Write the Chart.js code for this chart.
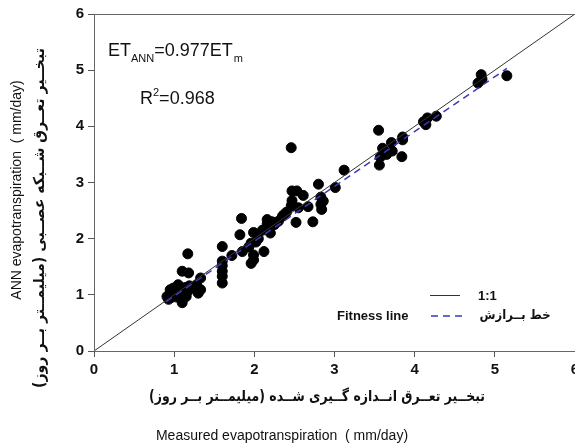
<!DOCTYPE html>
<html>
<head>
<meta charset="utf-8">
<script src="https://cdn.jsdelivr.net/npm/chart.js@4/dist/chart.umd.min.js"></script>
<style>
	html, body { margin: 0; padding: 0; background: #fff; overflow: hidden; }
	#wrap { width: 575px; height: 447px; overflow: hidden; }
</style>
</head>
<body>
<div id="wrap"><canvas id="chart" width="610" height="447"></canvas></div>
<script>
// --- Data (mm/day) ---
const measured = [
	0.91, 0.93, 0.95, 0.96, 0.97, 0.99, 1.01, 1.03, 1.04, 1.05,
	1.08, 1.10, 1.12, 1.14, 1.15, 1.17, 1.10, 1.19, 1.00, 0.98,
	1.10, 1.18, 1.17, 1.28, 1.33, 1.33, 1.30, 1.22,
	1.60, 1.60, 1.60, 1.60, 1.60, 1.60, 1.72, 1.85,
	1.84, 1.82, 1.99, 1.96, 1.99, 1.96, 1.99, 2.12, 2.16, 2.16,
	2.20, 2.05, 2.10, 2.25, 2.30, 1.93, 2.02, 2.37, 2.40, 2.47,
	2.47, 2.46, 2.47, 2.53, 2.61, 2.52, 2.73, 2.67, 2.83, 2.84,
	2.83, 2.86, 2.80, 2.46, 2.55, 3.01, 3.12,
	3.55, 3.60, 3.71, 3.72, 3.65, 3.57, 3.56, 3.85, 3.85, 3.84, 3.62,
	4.16, 4.14, 4.27, 4.11, 4.83, 4.79, 4.84, 5.15, 2.35, 2.22
];
const predicted = [
	0.97, 0.92, 1.09, 0.95, 1.02, 1.12, 1.00, 0.96, 1.05, 1.18,
	0.97, 1.10, 1.05, 1.13, 0.97, 1.06, 0.86, 1.16, 1.06, 0.99,
	1.42, 1.39, 1.73, 1.18, 1.30, 1.09, 1.03, 1.12,
	1.86, 1.60, 1.52, 1.42, 1.33, 1.21, 1.70, 1.77,
	2.36, 2.07, 2.11, 1.92, 1.62, 1.56, 1.71, 1.77, 2.34, 2.26,
	2.10, 2.00, 2.15, 2.25, 2.31, 1.85, 1.94, 2.43, 2.47, 2.62,
	2.68, 2.58, 2.85, 2.85, 2.77, 2.29, 2.30, 2.57, 2.61, 2.52,
	2.74, 2.67, 2.97, 3.62, 2.55, 2.91, 3.22,
	3.93, 3.61, 3.71, 3.56, 3.50, 3.45, 3.31, 3.81, 3.76, 3.46, 3.55,
	4.15, 4.03, 4.18, 4.08, 4.92, 4.77, 4.84, 4.90, 2.40, 2.30
];

// 1:1 line and fitted line end points
const oneX = [0, 6];
const oneY = [0, 6];
const fitX = [0.90, 5.15];
const fitY = [0.88, 5.03];

const axisTicks = [0, 1, 2, 3, 4, 5, 6];

const eqLabel = "ET_ANN=0.977ET_m";
const r2Label = "R2=0.968";
const legendOne = "1:1";
const legendFitEn = "Fitness line";
const legendFitFa = "خط بــرازش";
const xTitleFa = "تبخــیر تعــرق انــدازه گــیری شــده (میلیمــتر بــر روز)";
const xTitleEn = "Measured evapotranspiration  ( mm/day)";
const yTitleFa = "تبخــیر تعــرق شــبکه عصــبی (میلیمــتر بــر روز)";
const yTitleEn = "ANN evapotranspiration  ( mm/day)";

const toPoints = (xs, ys) => xs.map((x, i) => ({ x: x, y: ys[i] }));

const BASE = '"Liberation Sans", Arial, sans-serif';
const FA = '"DejaVu Sans", sans-serif';

// draw text squeezed/stretched to a given width, centred at cx, cy
function fitText(ctx, text, cx, cy, width, font, rtl) {
	ctx.save();
	ctx.font = font;
	ctx.direction = rtl ? "rtl" : "ltr";
	ctx.textAlign = "center";
	ctx.textBaseline = "middle";
	const w = ctx.measureText(text).width;
	ctx.translate(cx, cy);
	ctx.scale(width / w, 1);
	ctx.fillText(text, 0, 0);
	ctx.restore();
}

const decorPlugin = {
	id: "decor",
	afterDraw(chart) {
		const ctx = chart.ctx;
		const a = chart.chartArea;
		ctx.save();

		// frame
		ctx.strokeStyle = "#666";
		ctx.lineWidth = 1;
		ctx.strokeRect(a.left + 0.5, a.top + 0.5, a.right - a.left, a.bottom - a.top);

		ctx.fillStyle = "#111";
		ctx.textBaseline = "alphabetic";
		ctx.textAlign = "left";

		// regression equation
		let x = 108;
		const big = "18px " + BASE, small = "11px " + BASE;
		const parts = eqLabel.split("_");
		ctx.font = big; ctx.fillText(parts[0], x, 56); x += ctx.measureText(parts[0]).width;
		ctx.font = small; ctx.fillText("ANN", x, 62); x += ctx.measureText("ANN").width;
		ctx.font = big; ctx.fillText("=0.977ET", x, 56); x += ctx.measureText("=0.977ET").width;
		ctx.font = small; ctx.fillText("m", x + 1, 62);

		// R^2
		x = 140;
		ctx.font = big; ctx.fillText("R", x, 104); x += ctx.measureText("R").width;
		ctx.font = small; ctx.fillText("2", x, 96); x += ctx.measureText("2").width;
		ctx.font = big; ctx.fillText(r2Label.slice(2), x, 104);

		// legend
		ctx.strokeStyle = "#333";
		ctx.lineWidth = 1;
		ctx.beginPath(); ctx.moveTo(430, 295.5); ctx.lineTo(460, 295.5); ctx.stroke();
		ctx.strokeStyle = "#3a3ab8";
		ctx.lineWidth = 1.5;
		ctx.setLineDash([7, 5]);
		ctx.beginPath(); ctx.moveTo(431, 316); ctx.lineTo(466, 316); ctx.stroke();
		ctx.setLineDash([]);
		ctx.font = "bold 13px " + BASE;
		ctx.textBaseline = "middle";
		ctx.fillText(legendOne, 478, 296);
		ctx.fillText(legendFitEn, 337, 316);
		fitText(ctx, legendFitFa, 515, 316, 71, "bold 13px " + FA, true);

		// axis titles
		fitText(ctx, xTitleFa, 317, 397, 336, "bold 15px " + FA, true);
		ctx.font = "14px " + BASE;
		ctx.textAlign = "center";
		ctx.fillText(xTitleEn, 282, 436);

		ctx.save();
		ctx.translate(17, 190);
		ctx.rotate(-Math.PI / 2);
		ctx.font = "14px " + BASE;
		ctx.textAlign = "center";
		ctx.fillText(yTitleEn, 0, 0);
		ctx.restore();

		ctx.save();
		ctx.translate(40, 218);
		ctx.rotate(-Math.PI / 2);
		fitText(ctx, yTitleFa, 0, 0, 340, "bold 15px " + FA, true);
		ctx.restore();

		ctx.restore();
	}
};

const axisStyle = {
	type: "linear",
	min: 0,
	max: 6,
	afterBuildTicks: (scale) => { scale.ticks = axisTicks.map((v) => ({ value: v })); },
	grid: { drawOnChartArea: false, drawTicks: true, tickLength: 6, color: "#555" },
	border: { display: true, color: "#555", width: 1 },
	ticks: { color: "#111", font: { family: BASE, size: 15, weight: "bold" }, padding: 4 }
};

new Chart(document.getElementById("chart"), {
	type: "scatter",
	data: {
		datasets: [
			{
				label: "ANN",
				data: toPoints(measured, predicted),
				backgroundColor: "#000",
				borderColor: "#000",
				pointRadius: 5,
				pointHoverRadius: 5,
				order: 3
			},
			{
				type: "line",
				label: "1:1",
				data: toPoints(oneX, oneY),
				borderColor: "#333",
				borderWidth: 1,
				pointRadius: 0,
				order: 2
			},
			{
				type: "line",
				label: "fit",
				data: toPoints(fitX, fitY),
				borderColor: "#3a3ab8",
				borderWidth: 1.5,
				borderDash: [7, 5],
				pointRadius: 0,
				order: 1
			}
		]
	},
	options: {
		responsive: false,
		animation: false,
		layout: { padding: { top: 14, right: 35, left: 0, bottom: 0 } },
		plugins: { legend: { display: false }, tooltip: { enabled: false } },
		scales: {
			x: Object.assign({}, axisStyle, {
				afterFit: (scale) => { scale.height = 96; }
			}),
			y: Object.assign({}, axisStyle, {
				afterFit: (scale) => { scale.width = 94; }
			})
		}
	},
	plugins: [decorPlugin]
});
</script>
</body>
</html>
